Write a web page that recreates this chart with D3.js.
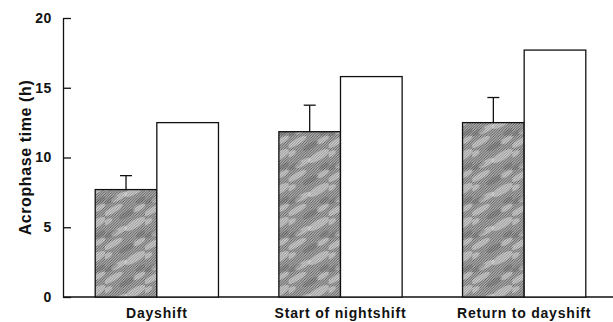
<!DOCTYPE html>
<html lang="en">
<head>
    <meta charset="UTF-8">
    <title>Acrophase time</title>
    <script src="https://d3js.org/d3.v7.min.js"></script>
    <style>
        body {
            margin: 0;
            background: #fff;
            font-family: "Liberation Sans", Arial, sans-serif;
        }
        .axis text {
            font-weight: bold;
            fill: #111;
        }
        .axis path, .axis line {
            stroke: #111;
            stroke-width: 1.3;
        }
    </style>
</head>
<body>
    <svg width="613" height="322"></svg>

    <script>
        const categories = ["Dayshift", "Start of nightshift", "Return to dayshift"];
        const series = ["hatched", "open"];
        const hatchedValues = [7.7, 11.85, 12.5];
        const hatchedErrors = [1.0, 1.9, 1.8];
        const openValues = [12.5, 15.8, 17.7];
        const yTicks = [0, 5, 10, 15, 20];

        const svg = d3.select("svg");

        const axisX = 63, plotTop = 18, plotBottom = 297;

        const x = d3.scaleBand()
            .domain(categories)
            .range([65, 616])
            .padding(0);

        const xSub = d3.scaleBand()
            .domain(series)
            .range([0, x.bandwidth()])
            .paddingInner(0)
            .paddingOuter(0.49);

        const y = d3.scaleLinear()
            .domain([0, 20])
            .range([plotBottom, plotTop]);

        // fill patterns for the shaded bars
        const defs = svg.append("defs");
        const hatch = defs.append("pattern")
            .attr("id", "hatch")
            .attr("patternUnits", "userSpaceOnUse")
            .attr("width", 2.6).attr("height", 2.6);
        hatch.append("rect").attr("width", 2.6).attr("height", 2.6).attr("fill", "#d2d2d2");
        hatch.append("path")
            .attr("d", "M-1,1 L1,-1 M0,2.6 L2.6,0 M1.6,3.6 L3.6,1.6")
            .attr("stroke", "#4a4a4a")
            .attr("stroke-width", 0.9);

        const mottle = defs.append("pattern")
            .attr("id", "mottle")
            .attr("patternUnits", "userSpaceOnUse")
            .attr("width", 40).attr("height", 34);
        const lightBlobs = [[8, 6, 11, 3], [30, 20, 12, 4], [14, 27, 9, 3], [34, 4, 7, 2.5], [2, 18, 6, 2.5]];
        const darkBlobs = [[22, 10, 9, 3], [6, 30, 8, 2.5], [36, 30, 6, 2.5]];
        mottle.selectAll("ellipse.light")
            .data(lightBlobs)
            .join("ellipse")
            .attr("class", "light")
            .attr("cx", d => d[0]).attr("cy", d => d[1])
            .attr("rx", d => d[2]).attr("ry", d => d[3])
            .attr("transform", d => `rotate(-30,${d[0]},${d[1]})`)
            .attr("fill", "#fff")
            .attr("opacity", 0.35);
        mottle.selectAll("ellipse.dark")
            .data(darkBlobs)
            .join("ellipse")
            .attr("class", "dark")
            .attr("cx", d => d[0]).attr("cy", d => d[1])
            .attr("rx", d => d[2]).attr("ry", d => d[3])
            .attr("transform", d => `rotate(-30,${d[0]},${d[1]})`)
            .attr("fill", "#333")
            .attr("opacity", 0.2);

        // y axis
        svg.append("g")
            .attr("class", "axis")
            .attr("transform", `translate(${axisX},0)`)
            .call(d3.axisLeft(y).tickValues(yTicks).tickSizeInner(-8).tickSizeOuter(0).tickPadding(11))
            .selectAll("text")
            .style("font-size", "14px")
            .style("letter-spacing", "0.6px");

        // x axis
        const xAxis = svg.append("g")
            .attr("class", "axis")
            .attr("transform", `translate(0,${plotBottom})`)
            .call(d3.axisBottom(x).tickSize(0).tickPadding(11));
        xAxis.select(".domain").remove();
        xAxis.selectAll("text")
            .style("font-size", "14px")
            .style("letter-spacing", "0.8px");
        xAxis.append("line")
            .attr("x1", axisX).attr("x2", 613)
            .attr("y1", 0).attr("y2", 0);

        svg.append("text")
            .attr("transform", `translate(31,${(plotTop + plotBottom) / 2}) rotate(-90)`)
            .attr("text-anchor", "middle")
            .style("font-size", "16px")
            .style("font-weight", "bold")
            .style("letter-spacing", "0.6px")
            .attr("fill", "#111")
            .text("Acrophase time (h)");

        const groups = svg.append("g")
            .selectAll("g")
            .data(categories)
            .join("g")
            .attr("transform", d => `translate(${x(d)},0)`);

        // shaded bars
        groups.append("rect")
            .attr("x", xSub("hatched"))
            .attr("y", (d, i) => y(hatchedValues[i]))
            .attr("width", xSub.bandwidth())
            .attr("height", (d, i) => y(0) - y(hatchedValues[i]))
            .attr("fill", "url(#hatch)");
        groups.append("rect")
            .attr("x", xSub("hatched"))
            .attr("y", (d, i) => y(hatchedValues[i]))
            .attr("width", xSub.bandwidth())
            .attr("height", (d, i) => y(0) - y(hatchedValues[i]))
            .attr("fill", "url(#mottle)")
            .attr("stroke", "#111")
            .attr("stroke-width", 1.3);

        // error bars (upper only)
        const cx = xSub("hatched") + xSub.bandwidth() / 2;
        groups.append("line")
            .attr("x1", cx).attr("x2", cx)
            .attr("y1", (d, i) => y(hatchedValues[i]))
            .attr("y2", (d, i) => y(hatchedValues[i] + hatchedErrors[i]))
            .attr("stroke", "#111").attr("stroke-width", 1.3);
        groups.append("line")
            .attr("x1", cx - 6).attr("x2", cx + 6)
            .attr("y1", (d, i) => y(hatchedValues[i] + hatchedErrors[i]))
            .attr("y2", (d, i) => y(hatchedValues[i] + hatchedErrors[i]))
            .attr("stroke", "#111").attr("stroke-width", 1.3);

        // open bars
        groups.append("rect")
            .attr("x", xSub("open"))
            .attr("y", (d, i) => y(openValues[i]))
            .attr("width", xSub.bandwidth())
            .attr("height", (d, i) => y(0) - y(openValues[i]))
            .attr("fill", "#fff")
            .attr("stroke", "#111")
            .attr("stroke-width", 1.3);
    </script>
</body>
</html>
